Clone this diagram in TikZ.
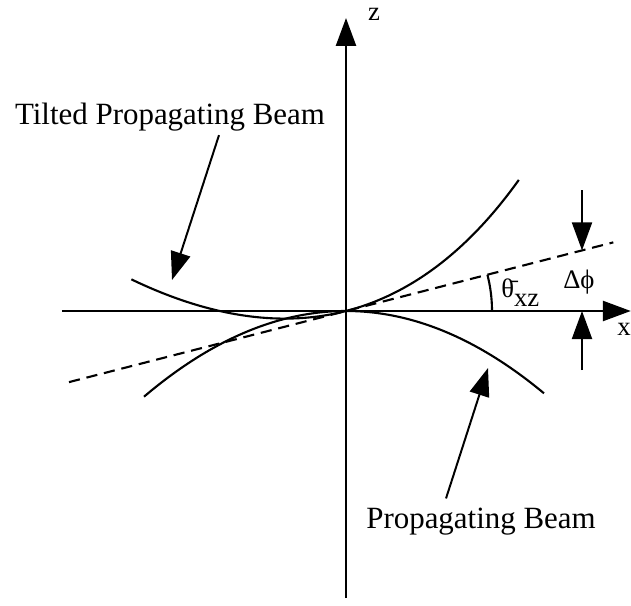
\documentclass[tikz,border=0pt]{standalone}
\usepackage{fontspec}
\setmainfont{Liberation Serif}
\usetikzlibrary{
  positioning,
  arrows.meta,
  calc
}
\tikzset{
  axis/.style    = {line width=1.8pt, -{Triangle[length=7mm, width=5mm]}},
  beam/.style    = {line width=1.5pt},
  tangent/.style = {line width=1.5pt, dash pattern=on 2.8mm off 1.7mm},
  pointer/.style = {line width=1.4pt, -{Triangle[length=7mm, width=5mm]}},
  caption/.style = {font=\fontsize{22}{26}\selectfont, inner sep=0pt},
  sym/.style     = {font=\fontsize{19}{22}\selectfont, inner sep=0pt}
}

\begin{document}
\begin{tikzpicture}
\useasboundingbox (-8.65,-7.35) rectangle (7.125,7.775);

% axes
\coordinate (xmin) at (-7.1,0);
\coordinate (xmax) at (7.12,0);
\coordinate (zmin) at (0,-7.175);
\coordinate (zmax) at (0,7.325);
\draw[axis] (xmin) -- (xmax);
\draw[axis] (zmin) -- (zmax);
\node[sym, anchor=base west] (xlbl) at (6.78,-0.6) {x};
\node[sym, anchor=base] (zlbl) at (0.7,7.25) {z};

% beams and tangent
\draw[beam] plot[domain=-5.05:4.95, samples=60, smooth] (\x,{-0.084*\x*\x});
\draw[beam, rotate=14.4] plot[domain=-5:5, samples=60, smooth] (\x,{0.084*\x*\x});
\draw[tangent, rotate=14.4] (-7.15,0) -- (6.9,0);

% tilt angle
\draw[beam] (3.65,0) arc[start angle=0, end angle=14.4, radius=3.65];
\node[sym, anchor=base west] (thetalbl) at (3.875,0.35) {\=θ\raisebox{-0.35em}{xz}};
\node[sym, anchor=base west] (dphilbl) at (5.425,0.575) {Δϕ};

% phase offset
\coordinate (dphiTop) at (5.9,3.025);
\coordinate (dphiUp) at (5.9,1.515);
\coordinate (dphiBot) at (5.9,-1.475);
\coordinate (dphiLow) at (5.9,0);
\draw[pointer] (dphiTop) -- (dphiUp);
\draw[pointer] (dphiBot) -- (dphiLow);

% captions
\node[caption, anchor=base] (tiltlbl) at (-4.4,4.65) {Tilted Propagating Beam};
\node[caption, anchor=base] (proplbl) at (3.375,-5.425) {Propagating Beam};
\coordinate (tiltTip) at (-4.35,0.775);
\coordinate (propTip) at (3.55,-1.425);
\draw[pointer] ($(tiltlbl.south)+(1.225,-0.08)$) -- (tiltTip);
\draw[pointer] ($(proplbl.north)+(-0.875,0.22)$) -- (propTip);
\end{tikzpicture}
\end{document}
